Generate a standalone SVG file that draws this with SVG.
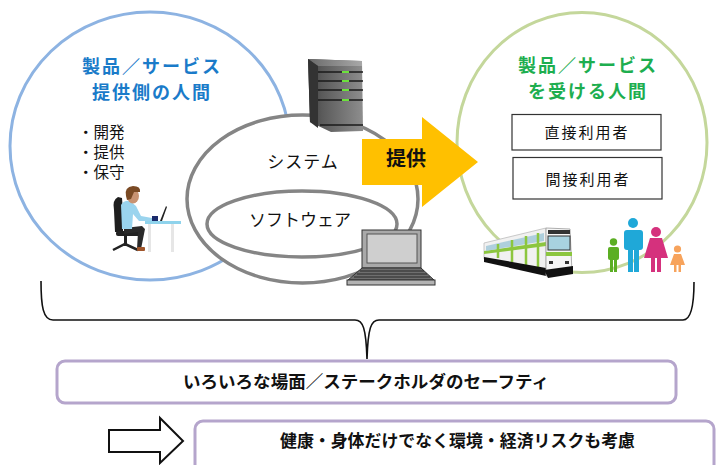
<svg xmlns="http://www.w3.org/2000/svg" width="716" height="465" viewBox="0 0 716 465">
  <defs>
    <style>
      text { font-family: "Noto Sans CJK JP", "Noto Sans", sans-serif; fill: #111; }
      .title { font-size: 18px; font-weight: 700; text-anchor: middle; letter-spacing: 2px; }
      .blue { fill: #1A7BC9; }
      .green { fill: #1DAE4F; }
      .bullet { font-size: 15.5px; }
      .label { font-size: 17px; text-anchor: middle; }
      .user { font-size: 15px; text-anchor: middle; letter-spacing: 2px; }
      .band { fill: #fff; stroke: #B5A5CC; stroke-width: 3; }
      .band-text { font-size: 17px; font-weight: 700; text-anchor: middle; }
      .ring { fill: #fff; stroke: #858585; stroke-width: 3.5; }
    </style>
    <linearGradient id="serverFace" x1="0" y1="0" x2="1" y2="0">
      <stop offset="0" stop-color="#3d3d3d"/>
      <stop offset="0.25" stop-color="#5a5a5a"/>
      <stop offset="1" stop-color="#8e8e8e"/>
    </linearGradient>
    <linearGradient id="serverTop" x1="0" y1="0" x2="1" y2="0">
      <stop offset="0" stop-color="#6a6a6a"/>
      <stop offset="1" stop-color="#a8a8a8"/>
    </linearGradient>
  </defs>

  <!-- provider side -->
  <g id="provider">
    <ellipse cx="150" cy="146" rx="140" ry="134" fill="#fff" stroke="#8DB3E2" stroke-width="3"/>
    <text class="title blue" x="152" y="73">製品／サービス</text>
    <text class="title blue" x="152" y="99">提供側の人間</text>
    <text class="bullet" x="78" y="138">・開発</text>
    <text class="bullet" x="78" y="158">・提供</text>
    <text class="bullet" x="78" y="178">・保守</text>
  </g>

  <!-- developer at desk -->
  <g id="developer">
    <!-- desk -->
    <rect x="145" y="221" width="36" height="3" fill="#8FD3EC"/>
    <rect x="148" y="224" width="3" height="28" fill="#e6e6e6"/>
    <rect x="171" y="224" width="3" height="28" fill="#e6e6e6"/>
    <!-- small laptop -->
    <path d="M160,221 L166,206 L167,207 L162,221 Z" fill="#222"/>
    <rect x="152" y="216" width="6" height="5" fill="#1b2a6b"/>
    <!-- chair -->
    <path d="M114,210 Q112,200 118,197 L122,198 Q124,215 123,232 L115,232 Z" fill="#1e1e1e"/>
    <rect x="116" y="231" width="24" height="5" rx="2" fill="#222"/>
    <rect x="124" y="236" width="3" height="10" fill="#222"/>
    <path d="M113,250 L125,244 L138,250" fill="none" stroke="#222" stroke-width="2.5"/>
    <!-- legs -->
    <path d="M124,228 L142,226 L145,229 L141,249 L137,249 L138,232 L124,234 Z" fill="#2a2a2a"/>
    <rect x="137" y="247" width="8" height="4" rx="1" fill="#a0552a"/>
    <!-- torso and arm -->
    <path d="M121,205 Q124,200 130,201 L136,206 L141,216 L152,218 L152,221 L139,221 L133,214 L132,229 L122,229 Z" fill="#9AD4EE"/>
    <!-- head -->
    <ellipse cx="133" cy="196" rx="6" ry="7.5" fill="#C89372"/>
    <path d="M126,196 Q124,187 133,186 Q141,186 140,192 L134,192 L131,199 L127,200 Z" fill="#7A4A24"/>
  </g>

  <!-- receiver side -->
  <g id="receiver">
    <ellipse cx="582" cy="142.5" rx="125" ry="130" fill="#fff" stroke="#C4D79B" stroke-width="3"/>
    <text class="title green" x="588" y="72">製品／サービス</text>
    <text class="title green" x="588" y="98">を受ける人間</text>
  </g>
  <g id="direct-user">
    <rect x="512" y="114.5" width="149" height="35.5" fill="#fff" stroke="#333" stroke-width="1.2"/>
    <text class="user" x="587" y="138">直接利用者</text>
  </g>
  <g id="indirect-user">
    <rect x="513" y="157.5" width="149" height="41.5" fill="#fff" stroke="#333" stroke-width="1.2"/>
    <text class="user" x="588" y="185">間接利用者</text>
  </g>

  <!-- commuter train -->
  <g id="train">
    <!-- side body -->
    <path d="M484,243 L546,228 L546,272 L484,259 Z" fill="#f1f1f1" stroke="#bbb" stroke-width="0.8"/>
    <path d="M484,251 L546,242 L546,246 L484,254 Z" fill="#8CC63F"/>
    <path d="M486,246 L544,233 L544,241 L486,251 Z" fill="#9DC7D8" opacity="0.8"/>
    <path d="M498,244 L498,258 M512,240 L512,262 M526,236 L526,266 M538,233 L538,269" stroke="#8CC63F" stroke-width="2.5"/>
    <path d="M484,257 L546,268 L546,276 L484,262 Z" fill="#111"/>
    <!-- front -->
    <path d="M546,228 L570,229 L572,272 L546,276 Z" fill="#f6f6f6" stroke="#999" stroke-width="0.8"/>
    <rect x="548" y="236" width="22" height="14" fill="#a8d2e0" stroke="#333" stroke-width="1"/>
    <rect x="548" y="230" width="22" height="4" fill="#333"/>
    <rect x="546" y="252" width="26" height="4" fill="#8CC63F"/>
    <rect x="549" y="261" width="4" height="3" fill="#333"/>
    <rect x="565" y="261" width="4" height="3" fill="#333"/>
    <path d="M544,270 L573,266 L573,274 L548,278 Z" fill="#111"/>
  </g>

  <!-- family -->
  <g id="family">
    <g fill="#5BAE23">
      <circle cx="613.5" cy="242" r="3.7"/>
      <rect x="608" y="247" width="11" height="13" rx="2"/>
      <rect x="610" y="258" width="3" height="14"/>
      <rect x="614" y="258" width="3" height="14"/>
    </g>
    <g fill="#1FA8D8">
      <circle cx="633" cy="223" r="5"/>
      <rect x="624" y="230" width="19" height="20" rx="3"/>
      <rect x="628" y="246" width="5" height="26"/>
      <rect x="634" y="246" width="5" height="26"/>
    </g>
    <g fill="#D5317D">
      <circle cx="656" cy="232" r="5"/>
      <path d="M650,238 L662,238 L668,258 L644,258 Z"/>
      <rect x="651" y="256" width="4" height="16"/>
      <rect x="657" y="256" width="4" height="16"/>
    </g>
    <g fill="#F7A35C">
      <circle cx="677.5" cy="249" r="3.6"/>
      <path d="M674,254 L681,254 L685,265 L670,265 Z"/>
      <rect x="674" y="264" width="2.5" height="8"/>
      <rect x="678.5" y="264" width="2.5" height="8"/>
    </g>
  </g>

  <!-- system and software rings -->
  <g id="system">
    <ellipse class="ring" cx="302.5" cy="199" rx="115.5" ry="84"/>
    <text class="label" x="303" y="168" letter-spacing="1">システム</text>
  </g>
  <g id="software">
    <ellipse class="ring" cx="302" cy="224" rx="95" ry="33"/>
    <text class="label" x="300" y="226">ソフトウェア</text>
  </g>

  <!-- server tower -->
  <g id="server">
    <path d="M308,59 L362,61 L363,131 L331,132 L310,122 Z" fill="url(#serverFace)"/>
    <path d="M308,59 L362,61 L362,66 L318,66 Z" fill="url(#serverTop)"/>
    <path d="M308,59 L318,66 L318,128 L310,122 Z" fill="#333"/>
    <g stroke="#1a1a1a" stroke-width="1.6">
      <line x1="318" y1="72" x2="363" y2="72"/>
      <line x1="318" y1="81" x2="363" y2="81"/>
      <line x1="318" y1="90" x2="363" y2="90"/>
      <line x1="318" y1="100" x2="363" y2="100"/>
      <line x1="320" y1="125" x2="363" y2="125"/>
    </g>
    <g fill="#6CE23B">
      <rect x="342" y="71" width="7" height="2"/>
      <rect x="342" y="80" width="7" height="2"/>
      <rect x="342" y="89" width="7" height="2"/>
      <rect x="342" y="99" width="7" height="2"/>
    </g>
  </g>

  <!-- laptop -->
  <g id="laptop">
    <rect x="362" y="230" width="59" height="38" fill="#a9a9a9" stroke="#333" stroke-width="1"/>
    <rect x="367" y="234" width="50" height="29" fill="#cfcfcf" stroke="#555" stroke-width="1"/>
    <path d="M362,268 L421,268 L434,280 L348,280 Z" fill="#6f6f6f" stroke="#333" stroke-width="1"/>
    <g stroke="#2a2a2a" stroke-width="1">
      <line x1="360" y1="271" x2="424" y2="271"/>
      <line x1="357" y1="274" x2="427" y2="274"/>
      <line x1="354" y1="277" x2="430" y2="277"/>
    </g>
    <rect x="347" y="280" width="88" height="5" fill="#b3b3b3" stroke="#333" stroke-width="1"/>
  </g>

  <!-- provision arrow -->
  <g id="provide">
    <polygon points="362,139 422,139 422,117 478,162 422,207 422,185 362,185" fill="#FFC000"/>
    <text x="406" y="166" font-size="20" font-weight="700" text-anchor="middle">提供</text>
  </g>

  <!-- connectors -->
  <g id="connectors" fill="none" stroke="#111" stroke-width="1.6">
    <path d="M41,281 C41,306 43,320 53,320 H355 C363,320 366,328 367,359 C368,328 371,320 379,320 H683 C691,320 694,306 694,282"/>
    <polygon points="109,430 160,430 160,418 183,441 160,463 160,452 109,452" fill="#fff" stroke-width="2"/>
  </g>

  <!-- summary bands -->
  <g id="safety">
    <rect class="band" x="57" y="361" width="619" height="42" rx="8"/>
    <text class="band-text" x="366" y="388" textLength="366" lengthAdjust="spacingAndGlyphs">いろいろな場面／ステークホルダのセーフティ</text>
  </g>
  <g id="risk">
    <rect class="band" x="195" y="421" width="519" height="54" rx="8"/>
    <text class="band-text" x="457.5" y="447" textLength="355" lengthAdjust="spacingAndGlyphs">健康・身体だけでなく環境・経済リスクも考慮</text>
  </g>
</svg>
